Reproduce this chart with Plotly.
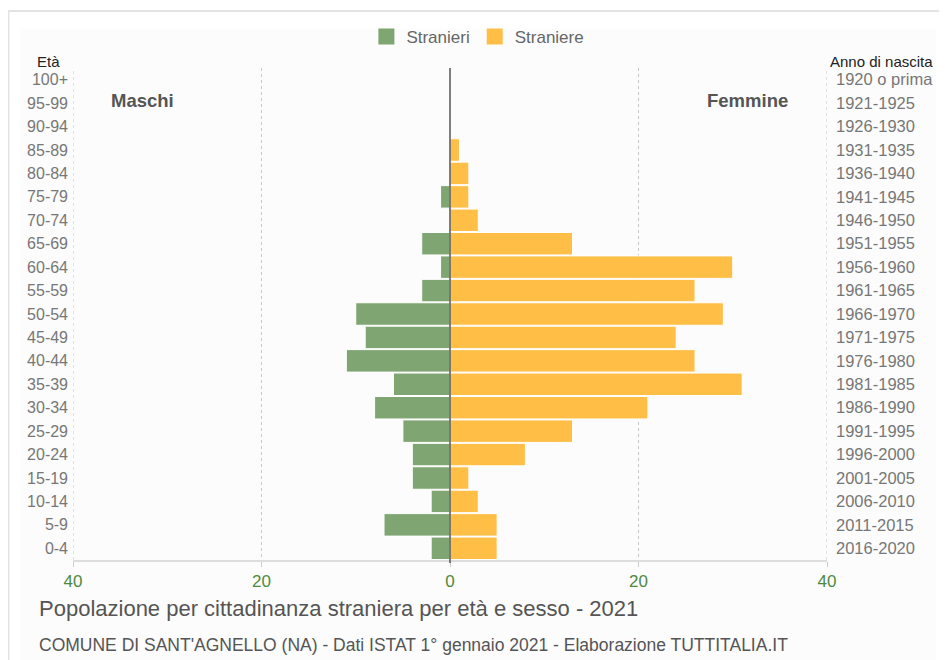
import plotly.graph_objects as go

ages = ["0-4", "5-9", "10-14", "15-19", "20-24", "25-29", "30-34", "35-39", "40-44",
        "45-49", "50-54", "55-59", "60-64", "65-69", "70-74", "75-79", "80-84",
        "85-89", "90-94", "95-99", "100+"]
years = ["2016-2020", "2011-2015", "2006-2010", "2001-2005", "1996-2000", "1991-1995",
         "1986-1990", "1981-1985", "1976-1980", "1971-1975", "1966-1970", "1961-1965",
         "1956-1960", "1951-1955", "1946-1950", "1941-1945", "1936-1940", "1931-1935",
         "1926-1930", "1921-1925", "1920 o prima"]
maschi = [2, 7, 2, 4, 4, 5, 8, 6, 11, 9, 10, 3, 1, 3, 0, 1, 0, 0, 0, 0, 0]
femmine = [5, 5, 3, 2, 8, 13, 21, 31, 26, 24, 29, 26, 30, 13, 3, 2, 2, 1, 0, 0, 0]
xticks = [-40, -20, 0, 20, 40]
xticklabels = ["40", "20", "0", "20", "40"]

GREEN = "#7fa672"
ORANGE = "#ffbf47"
FONT = "Liberation Sans"

fig = go.Figure()
fig.add_trace(go.Bar(
    y=ages, x=[-v for v in maschi], orientation="h", name="Stranieri", showlegend=False,
    marker=dict(color=GREEN, line=dict(color="white", width=1)),
))
fig.add_trace(go.Bar(
    y=ages, x=femmine, orientation="h", name="Straniere", showlegend=False,
    marker=dict(color=ORANGE, line=dict(color="white", width=1)),
))
# legend entries with large square swatches
for nm, col in [("Stranieri", GREEN), ("Straniere", ORANGE)]:
    fig.add_trace(go.Scatter(x=[None], y=[None], mode="markers", name=nm,
                             marker=dict(symbol="square", size=18, color=col)))
# invisible trace to carry the right-hand (birth year) axis
fig.add_trace(go.Scatter(
    y=years, x=[0] * len(years), yaxis="y2", mode="markers",
    marker=dict(opacity=0), showlegend=False, hoverinfo="skip",
))

fig.update_layout(
    width=947, height=660,
    paper_bgcolor="white", plot_bgcolor="rgba(0,0,0,0)",
    barmode="relative", bargap=0.04,
    margin=dict(l=65, r=128, t=59, b=108),
    font=dict(family=FONT, color="#666"),
    showlegend=True,
    legend=dict(orientation="h", x=0.537, xanchor="center", y=1.061, yanchor="middle",
                font=dict(size=17, color="#666"), traceorder="normal",
                itemsizing="trace", bgcolor="rgba(0,0,0,0)"),
    xaxis=dict(range=[-40, 40], tickvals=xticks, ticktext=xticklabels,
               showgrid=True, gridcolor="#c8c8c8", griddash="dot", gridwidth=1,
               zeroline=False, showline=True, linecolor="#dddddd", linewidth=2,
               ticks="outside", ticklen=5, tickcolor="#cccccc",
               tickfont=dict(size=17, color="#4e8a3e", family=FONT), fixedrange=True),
    yaxis=dict(type="category", categoryorder="array", categoryarray=ages,
               range=[-0.5, 20.5], showgrid=False, zeroline=False, ticks="",
               tickfont=dict(size=16, color="#777", family=FONT), ticklabelstandoff=4),
    yaxis2=dict(type="category", categoryorder="array", categoryarray=years,
                range=[-0.5, 20.5], overlaying="y", side="right", showgrid=False,
                zeroline=False, ticks="", tickfont=dict(size=16.5, color="#777", family=FONT),
                ticklabelstandoff=8),
)

# outer light frame and inner panel
fig.add_shape(type="rect", xref="paper", yref="paper", x0=-0.0855, x1=1.18, y0=-0.25, y1=1.1156,
              line=dict(color="#e3e3e3", width=2), fillcolor="rgba(0,0,0,0)", layer="below")
fig.add_shape(type="rect", xref="paper", yref="paper", x0=-0.07, x1=1.145, y0=-0.25, y1=1.08,
              line=dict(width=0), fillcolor="#fcfcfc", layer="below")
# dotted edge gridlines at +/-40
for xv in (-40, 40):
    fig.add_shape(type="line", xref="x", yref="paper", x0=xv, x1=xv, y0=0, y1=1,
                  line=dict(color="#c8c8c8", width=1, dash="dot"), layer="below")
# centre axis line
fig.add_shape(type="line", xref="x", yref="paper", x0=0, x1=0, y0=-0.006, y1=1,
              line=dict(color="#555555", width=1.5), layer="above")

ann = [
    dict(text="Età", x=-0.033, y=1.014, xanchor="center", font=dict(size=15, color="#222")),
    dict(text="Anno di nascita", x=1.001, y=1.014, xanchor="left", font=dict(size=15, color="#222")),
    dict(text="<b>Maschi</b>", x=0.0928, y=0.933, xanchor="center", font=dict(size=18.5, color="#555")),
    dict(text="<b>Femmine</b>", x=0.895, y=0.933, xanchor="center", font=dict(size=18.5, color="#555")),
    dict(text="Popolazione per cittadinanza straniera per età e sesso - 2021", x=-0.0477, y=-0.0994,
         xanchor="left", font=dict(size=22, color="#555")),
    dict(text="COMUNE DI SANT'AGNELLO (NA) - Dati ISTAT 1° gennaio 2021 - Elaborazione TUTTITALIA.IT",
         x=-0.0477, y=-0.1724, xanchor="left", font=dict(size=17.5, color="#555")),
]
for a in ann:
    fig.add_annotation(xref="paper", yref="paper", yanchor="middle", showarrow=False, **a)

fig.write_html("out.html")
